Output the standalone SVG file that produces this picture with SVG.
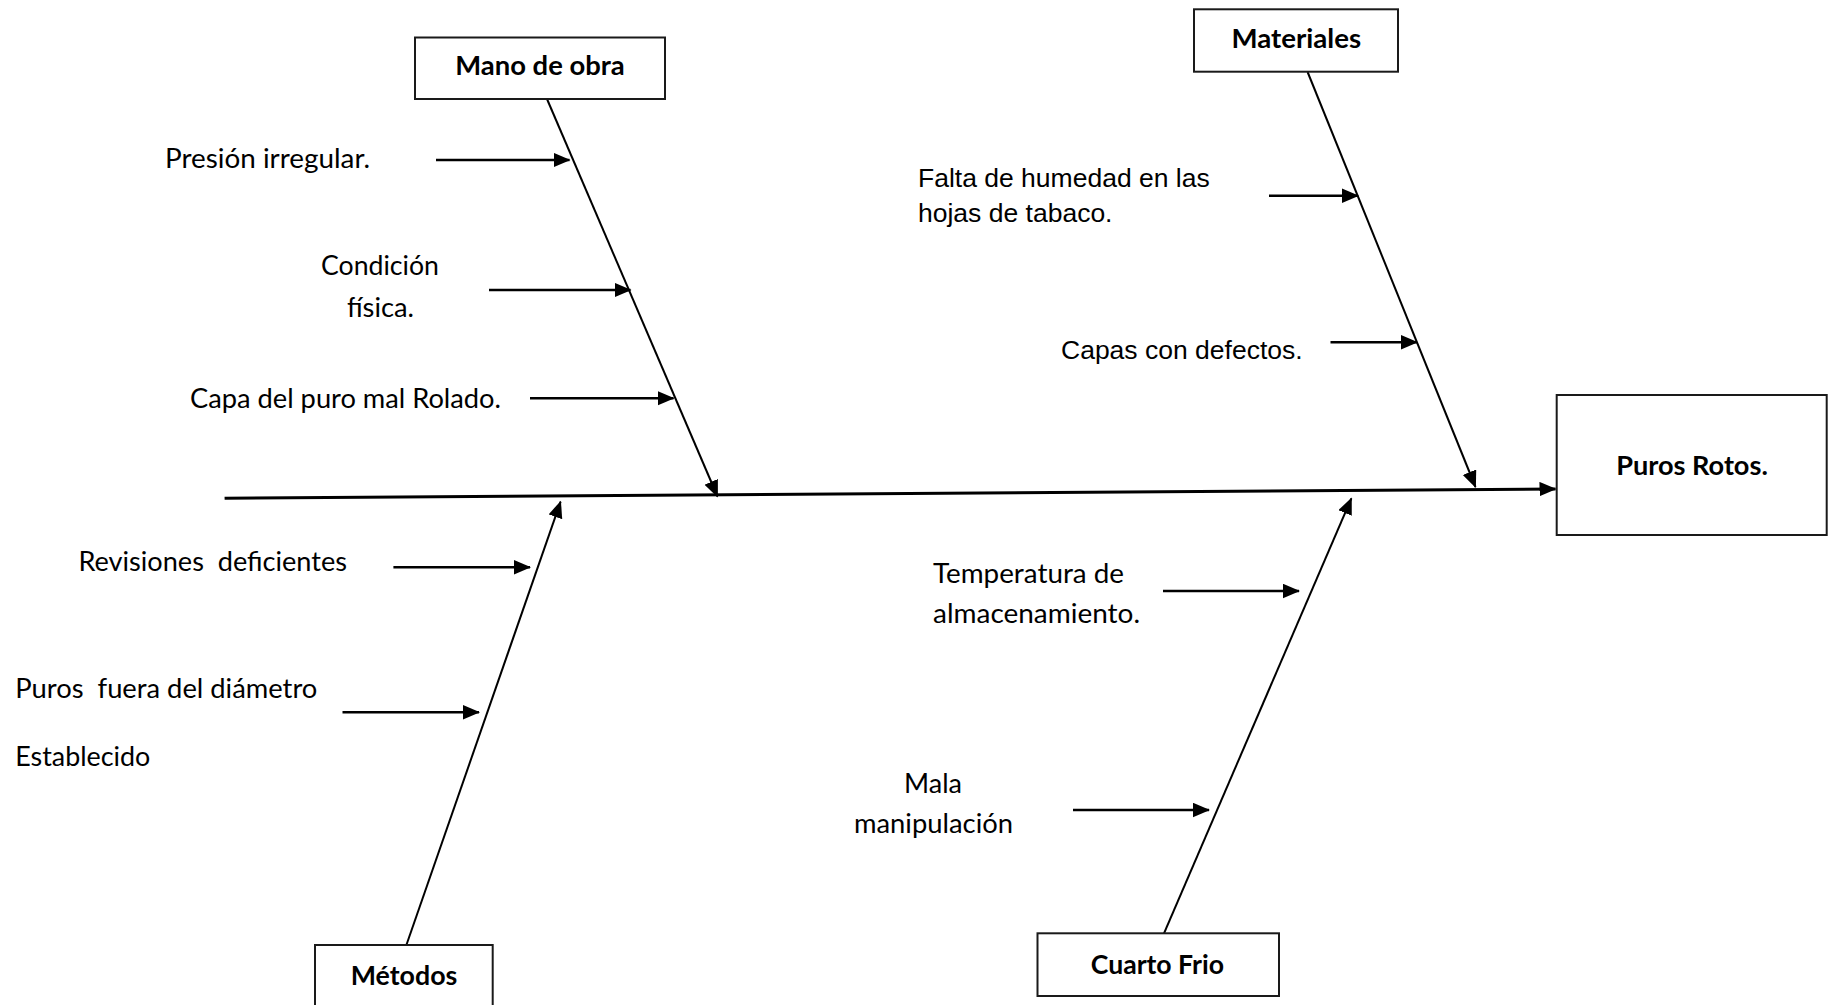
<svg xmlns="http://www.w3.org/2000/svg" width="1829" height="1005" viewBox="0 0 1829 1005">
<style>
.box{fill:#fff;stroke:#1a1a1a;stroke-width:2}
.c{font-family:Lato,"Open Sans","Liberation Sans",sans-serif;font-size:27px;fill:#000;white-space:pre}
.b{font-family:Lato,"Open Sans","Liberation Sans",sans-serif;font-size:27px;font-weight:bold;fill:#000;text-anchor:middle}
.a{font-family:"Liberation Sans",Arial,sans-serif;font-size:26.5px;fill:#000}
.spine{stroke:#000;stroke-width:3;fill:none}
.branch{stroke:#000;stroke-width:2;fill:none}
.arrow{stroke:#000;stroke-width:2.5;fill:none}
</style>
<defs>
<marker id="ah" markerUnits="userSpaceOnUse" markerWidth="18" markerHeight="15" refX="16" refY="7.25" orient="auto">
<path d="M0,0 L17,7.25 L0,14.5 z" fill="#000"/>
</marker>
</defs>
<rect width="1829" height="1005" fill="#fff"/>
<g id="connectors">
<line class="spine" x1="224.6" y1="498.3" x2="1555.5" y2="489" marker-end="url(#ah)"/>
<line class="branch" x1="547" y1="99" x2="717.5" y2="496.5" marker-end="url(#ah)"/>
<line class="branch" x1="1307.6" y1="72" x2="1475.5" y2="487" marker-end="url(#ah)"/>
<line class="branch" x1="406.4" y1="945" x2="560.6" y2="501.7" marker-end="url(#ah)"/>
<line class="branch" x1="1164" y1="933.3" x2="1351.4" y2="498.3" marker-end="url(#ah)"/>
<line class="arrow" x1="436" y1="160" x2="569.5" y2="160" marker-end="url(#ah)"/>
<line class="arrow" x1="489" y1="290" x2="630.5" y2="290" marker-end="url(#ah)"/>
<line class="arrow" x1="530" y1="398.3" x2="673.5" y2="398.3" marker-end="url(#ah)"/>
<line class="arrow" x1="1269" y1="195.7" x2="1358" y2="195.7" marker-end="url(#ah)"/>
<line class="arrow" x1="1330.5" y1="342.3" x2="1417" y2="342.3" marker-end="url(#ah)"/>
<line class="arrow" x1="393.4" y1="567.3" x2="530" y2="567.3" marker-end="url(#ah)"/>
<line class="arrow" x1="342.5" y1="712.3" x2="479" y2="712.3" marker-end="url(#ah)"/>
<line class="arrow" x1="1163" y1="591" x2="1299" y2="591" marker-end="url(#ah)"/>
<line class="arrow" x1="1073" y1="810" x2="1209" y2="810" marker-end="url(#ah)"/>
</g>
<g id="mano-de-obra">
<rect class="box" x="415" y="37.5" width="250" height="61.5"/>
<text class="b" x="540" y="75" textLength="169.5" lengthAdjust="spacingAndGlyphs">Mano de obra</text>
</g>
<g id="materiales">
<rect class="box" x="1194" y="9.3" width="204" height="62.4"/>
<text class="b" x="1296.3" y="47.7" textLength="129.7" lengthAdjust="spacingAndGlyphs">Materiales</text>
</g>
<g id="puros-rotos">
<rect class="box" x="1556.7" y="395" width="270" height="140"/>
<text class="b" x="1692" y="475" textLength="151.7" lengthAdjust="spacingAndGlyphs">Puros Rotos.</text>
</g>
<g id="metodos">
<rect class="box" x="315" y="945" width="177.7" height="70"/>
<text class="b" x="404" y="984.5" textLength="106.6" lengthAdjust="spacingAndGlyphs">Métodos</text>
</g>
<g id="cuarto-frio">
<rect class="box" x="1037.5" y="933.3" width="241.5" height="62.7"/>
<text class="b" x="1157.4" y="973.5" textLength="133.3" lengthAdjust="spacingAndGlyphs">Cuarto Frio</text>
</g>
<g id="cause-presion">
<text class="c" x="165" y="168" textLength="205" lengthAdjust="spacingAndGlyphs">Presión irregular.</text>
</g>
<g id="cause-condicion">
<text class="c" x="321" y="275" textLength="118" lengthAdjust="spacingAndGlyphs">Condición</text>
<text class="c" x="347" y="317" textLength="67" lengthAdjust="spacingAndGlyphs">física.</text>
</g>
<g id="cause-capa">
<text class="c" x="190" y="407.5" textLength="311" lengthAdjust="spacingAndGlyphs">Capa del puro mal Rolado.</text>
</g>
<g id="cause-humedad">
<text class="a" x="918" y="187">Falta de humedad en las</text>
<text class="a" x="918" y="222">hojas de tabaco.</text>
</g>
<g id="cause-capas">
<text class="a" x="1061" y="358.5">Capas con defectos.</text>
</g>
<g id="cause-revisiones">
<text class="c" x="78.5" y="571" textLength="268.5" lengthAdjust="spacingAndGlyphs">Revisiones  deficientes</text>
</g>
<g id="cause-diametro">
<text class="c" x="15.3" y="698" textLength="302" lengthAdjust="spacingAndGlyphs">Puros  fuera del diámetro</text>
<text class="c" x="15.3" y="766" textLength="135" lengthAdjust="spacingAndGlyphs">Establecido</text>
</g>
<g id="cause-temperatura">
<text class="c" x="933" y="582.5" textLength="191" lengthAdjust="spacingAndGlyphs">Temperatura de</text>
<text class="c" x="933" y="623" textLength="207" lengthAdjust="spacingAndGlyphs">almacenamiento.</text>
</g>
<g id="cause-manipulacion">
<text class="c" x="904" y="793" textLength="58" lengthAdjust="spacingAndGlyphs">Mala</text>
<text class="c" x="854" y="833" textLength="159" lengthAdjust="spacingAndGlyphs">manipulación</text>
</g>
</svg>
